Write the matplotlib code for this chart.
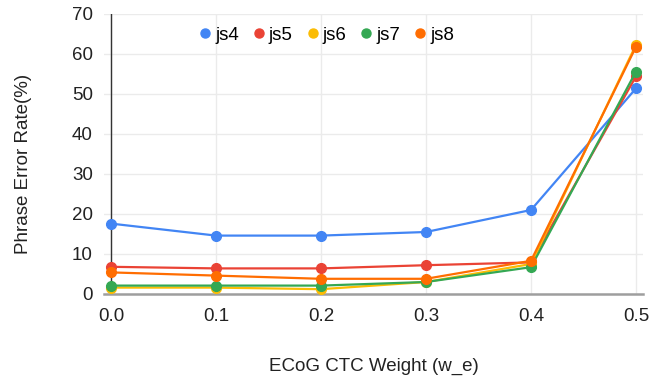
import matplotlib.pyplot as plt
from matplotlib.lines import Line2D

plt.rcParams['font.family'] = ['Liberation Sans', 'DejaVu Sans']

# dados
pesos = [0.0, 0.1, 0.2, 0.3, 0.4, 0.5]
js4 = [17.6, 14.6, 14.6, 15.5, 21.0, 51.4]
js5 = [6.8, 6.4, 6.4, 7.2, 7.9, 54.4]
js6 = [1.6, 1.6, 1.2, 3.0, 7.5, 62.3]
js7 = [2.1, 2.1, 2.1, 3.0, 6.7, 55.6]
js8 = [5.4, 4.6, 3.8, 3.8, 8.3, 61.8]

series = [('js4', js4, '#4285F4'), ('js5', js5, '#EA4335'), ('js6', js6, '#FBBC04'),
          ('js7', js7, '#34A853'), ('js8', js8, '#FF6D01')]

fig = plt.figure(figsize=(6.7, 3.83), dpi=100)
ax = fig.add_axes([104 / 670, 89 / 383, 539 / 670, 280 / 383])

for nome, vals, cor in series:
    ax.plot(pesos, vals, color=cor, linewidth=1.6, marker='o', markersize=7, label=nome, zorder=3)

ax.set_xlim(-0.0067, 0.5067)
ax.set_ylim(0, 70)
ax.set_xticks(pesos)
ax.set_xticklabels(['0.0', '0.1', '0.2', '0.3', '0.4', '0.5'])
ax.set_yticks(range(0, 71, 10))
ax.grid(True, color='#ebebeb', linewidth=1)
ax.set_axisbelow(True)
for s in ['top', 'right', 'left']:
    ax.spines[s].set_visible(False)
ax.spines['bottom'].set_color('#9e9e9e')
ax.spines['bottom'].set_linewidth(1.8)
ax.axvline(0.0, color='#333333', linewidth=1, zorder=2)
ax.tick_params(axis='y', length=0, labelsize=13.5, colors='#222222', pad=8)
ax.tick_params(axis='x', length=0, labelsize=13.5, colors='#222222', pad=10)

# títulos dos eixos posicionados como no original
fig.text(373.5 / 670, 1 - 366 / 383, 'ECoG CTC Weight (w_e)', fontsize=13.5, color='#222222',
         ha='center', va='center')
fig.text(24 / 670, 1 - 163.5 / 383, 'Phrase Error Rate(%)', fontsize=13.5, color='#222222',
         ha='center', va='center', rotation=90)

handles = [Line2D([], [], linestyle='none', marker='o', markersize=6.5, color=c) for _, _, c in series]
ax.legend(handles, [n for n, _, _ in series], loc='center', bbox_to_anchor=(0.41, 0.925), ncol=5,
          frameon=False, fontsize=13.5, handletextpad=0.05, columnspacing=0.55, handlelength=1.0)

fig.savefig('out.png', dpi=100)
